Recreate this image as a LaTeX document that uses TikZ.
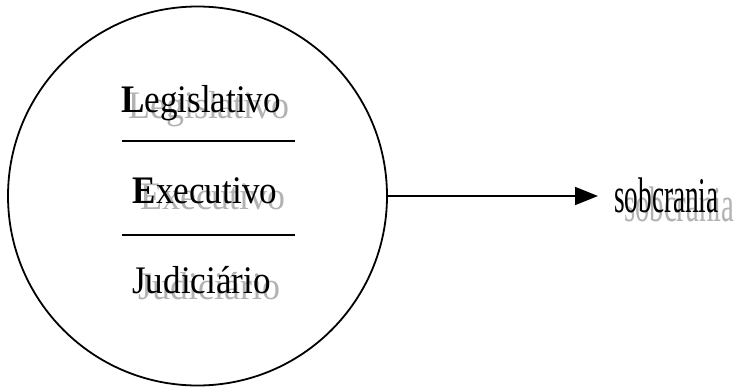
\documentclass[tikz,border=0pt]{standalone}
\usepackage{fontspec}
\setmainfont{Liberation Serif}
\usetikzlibrary{arrows.meta}
\newcommand{\wsq}[1]{\scalebox{0.9}[1]{#1}}
\newcommand{\wsqg}[1]{\scalebox{0.92}[1]{#1}}
\newcommand{\ssq}[1]{\scalebox{0.545}[1]{#1}}
\newcommand{\ssqg}[1]{\scalebox{0.575}[1]{#1}}
\begin{document}
\begin{tikzpicture}[x=1pt,y=-1pt,
  lbl/.style={inner sep=0pt, anchor=base, font=\fontsize{39}{42}\selectfont},
  shd/.style={lbl, text=black!30},
  slbl/.style={inner sep=0pt, anchor=base west, font=\fontsize{50}{54}\selectfont},
  sshd/.style={slbl, text=black!30},
  sep/.style={line width=1.8pt},
  arr/.style={line width=1.8pt, -{Triangle[length=23pt,width=18pt]}}]
\useasboundingbox (0,0) rectangle (736,386);
\node[circle, draw, line width=1.8pt, minimum size=379pt, inner sep=0pt] (c) at (197.5,196) {};
% shadows
\node[shd] (legS) at (209,118) {\wsqg{Legislativo}};
\node[shd] (exeS) at (213,209) {\wsqg{Executivo}};
\node[shd] (judS) at (209.5,299) {\wsqg{Judiciário}};
\node[sshd] (sobS) at (624,221) {\ssqg{sobcrania}};
% texts
\node[lbl] (leg) at (201,112) {\wsq{\textbf{L}egislativo}};
\node[lbl] (exe) at (205,203) {\wsq{\textbf{E}xecutivo}};
\node[lbl] (jud) at (201.5,293) {\wsq{Judiciário}};
\node[slbl] (sob) at (614,212) {\ssq{sobcrania}};
% separators
\draw[sep] (122,141) -- (295,141);
\draw[sep] (122,235) -- (295,235);
% arrow
\draw[arr, shorten >=16pt] (c.east) -- (c.east -| sob.west);
\end{tikzpicture}
\end{document}
